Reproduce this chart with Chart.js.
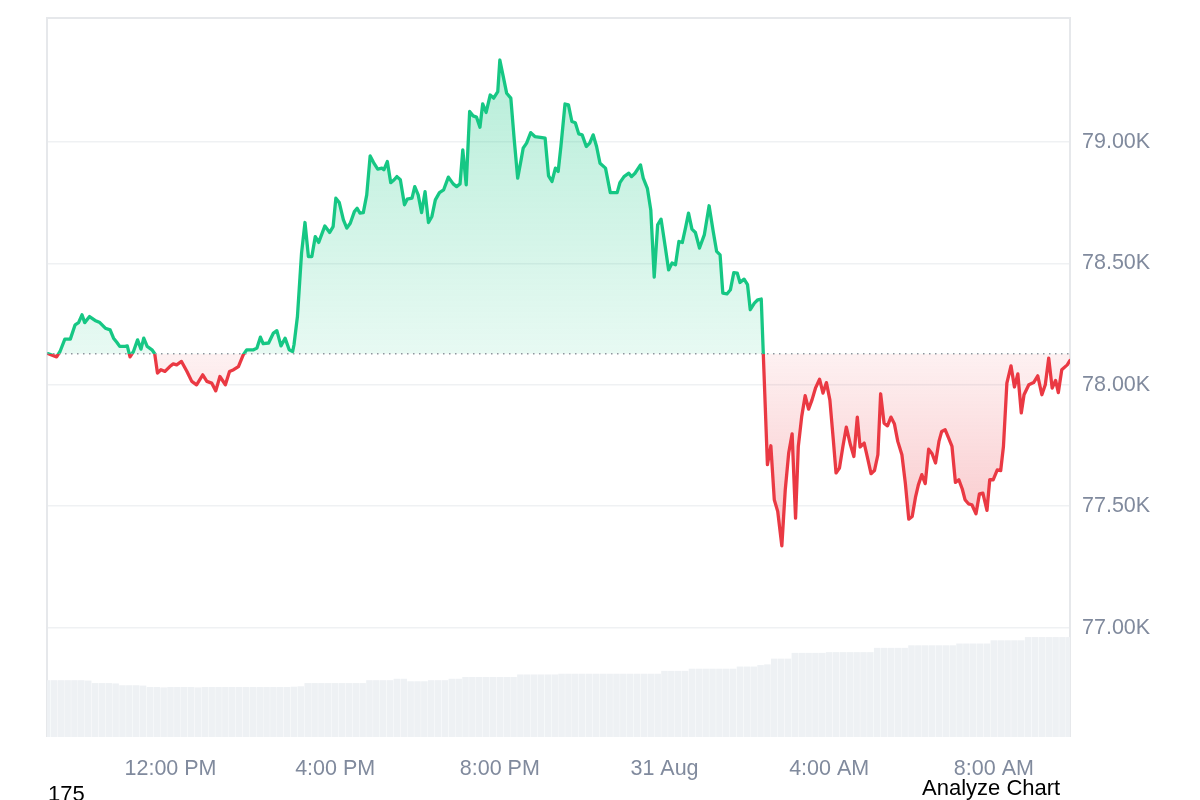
<!DOCTYPE html>
<html><head><meta charset="utf-8">
<script src="https://cdn.jsdelivr.net/npm/chart.js@4.4.1/dist/chart.umd.min.js"></script>
<style>
html,body{margin:0;padding:0;background:#fff;overflow:hidden;}
#wrap{position:relative;width:1200px;height:800px;}
canvas{display:block;}
.t{position:absolute;font-family:"Liberation Sans",Arial,sans-serif;color:#000;white-space:nowrap;}
</style></head><body>
<div id="wrap"><canvas id="c" width="1200" height="800" style="width:1200px;height:800px"></canvas>
<div class="t" style="left:48px;top:783px;font-size:22px;line-height:22px;">175</div>
<div class="t" style="left:922px;top:777px;font-size:22px;line-height:22px;">Analyze Chart</div>
</div>
<script>
// minutes since 30 Aug 09:00
const minutes = [2,14,19,26,34,41,46,51,55,62,70,77,85,92,97,102,106,114,117,121,126,132,137,141,146,153,157,161,166,172,179,184,189,196,204,211,218,227,233,240,246,252,260,266,272,279,286,291,301,306,311,315,323,330,335,341,347,353,358,
360,365,371,376,381,386,391,396,405,412,417,421,426,432,437,442,448,452,456,461,466,471,476,482,488,491,496,501,506,510,515,521,525,532,536,541,546,551,556,561,566,572,578,585,592,597,602,606,611,616,621,626,631,635,640,646,651,657,660,665,670,676,681,686,691,694,699,705,711,719,726,731,736,741,745,749,755,760,765,770,775,780,786,791,796,801,806,814,821,831,835,841,848,852,857,865,869,875,880,885,890,895,901,906,911,916,921,926,931,935,940,945,951,958,965,971,976,981,985,991,996,1001,1006,1010,1016,1021,1025,1031,1036,1041,
1050,1055,1060,1065,1071,1076,1081,1086,1091,1095,1100,1105,1110,1115,1120,1126,1131,1136,1141,1146,1150,1155,1160,1165,1171,1176,1181,1185,1191,1196,1201,1206,1211,1215,1220,1225,1230,1235,1240,1246,1251,1256,1261,1266,1270,1275,1280,1285,1290,1295,1300,1304,1309,1314,1319,1324,1329,1334,1338,1343,1348,1354,1359,1364,1370,1374,1379,1385,1390,1394,1399,1405,1410,1415,1420,1424,1431,1438,1444,1450,1455,1460,1465,1470,1474,1479,1487,1491];
const prices = [78128,78115,78137,78188,78188,78247,78256,78288,78256,78281,78265,78256,78233,78226,78192,78174,78158,78158,78160,78115,78137,78185,78147,78192,78158,78144,78128,78048,78062,78055,78075,78086,78082,78096,78055,78014,78000,78041,78014,78007,77975,78034,78000,78055,78062,78075,78123,78144,78144,78151,78196,78169,78172,78213,78223,78160,78192,78144,78137,
78165,78281,78542,78668,78528,78528,78610,78586,78654,78627,78651,78768,78750,78679,78645,78665,78713,78727,78707,78709,78782,78942,78915,78888,78892,78885,78919,78832,78844,78857,78844,78741,78764,78768,78816,78782,78709,78795,78668,78693,78761,78791,78802,78855,78827,78816,78827,78967,78823,79125,79107,79102,79060,79156,79121,79193,79180,79207,79337,79269,79200,79180,79008,78851,78926,78974,78995,79038,79022,79019,79015,78860,78837,78892,78878,78981,79156,79152,79084,79079,79033,79029,78981,78995,79029,78981,78912,78892,78791,78791,78832,78857,78871,78857,78871,78905,78851,78809,78720,78443,78658,78682,78569,78473,78501,78494,78590,78586,78651,78707,78641,78627,78563,78617,78737,78631,78549,78535,78377,78374,78391,78462,78460,78421,78435,78412,78309,78336,78350,78353,
77671,77749,77527,77479,77337,77568,77719,77798,77451,77746,77870,77955,77900,77938,77986,78023,77966,78009,77938,77774,77637,77657,77746,77826,77753,77705,77867,77744,77760,77698,77634,77647,77712,77963,77842,77831,77867,77840,77767,77712,77595,77447,77458,77540,77588,77630,77593,77735,77716,77678,77767,77808,77815,77781,77746,77598,77609,77571,77527,77510,77506,77469,77551,77554,77483,77609,77609,77650,77647,77746,78007,78078,77991,78045,77884,77959,78000,78009,78037,77959,78000,78110,77986,78018,77968,78062,78082,78100];
const basePrice = 78128;

// volume bars, one every 10 minutes from 09:00
const volStartMin = 0, volStepMin = 10;
const volumes = [7.9,7.9,7.9,7.9,7.9,7.9,7.85,7.5,7.5,7.5,7.45,7.2,7.2,7.2,7.15,
6.95,6.95,6.9,6.95,6.95,6.95,6.95,6.9,6.95,6.95,6.95,6.95,6.95,6.95,6.95,6.95,6.95,6.95,6.95,6.95,6.95,7.0,7.05,
7.5,7.5,7.5,7.5,7.5,7.5,7.5,7.5,7.5,7.9,7.9,7.9,7.9,8.1,8.1,7.75,7.75,7.75,7.9,7.9,7.9,8.1,8.1,
8.35,8.35,8.35,8.35,8.35,8.35,8.35,8.35,8.7,8.7,8.7,8.7,8.7,8.7,
8.8,8.8,8.8,8.8,8.8,8.8,8.8,8.8,8.8,8.8,8.8,8.8,8.8,8.8,8.8,
9.2,9.2,9.2,9.2,9.5,9.5,9.5,9.5,9.5,9.5,9.5,9.8,9.8,9.8,10.0,10.1,10.9,10.9,10.9,
11.7,11.7,11.7,11.7,11.7,11.8,11.8,11.8,11.8,11.8,11.8,11.8,12.4,12.4,12.4,12.4,12.4,
12.75,12.75,12.75,12.75,12.75,12.75,12.75,13.0,13.0,13.0,13.0,13.0,13.45,13.45,13.45,13.45,13.45,
13.9,13.9,13.9,13.9,13.9,13.9,13.9];

const xTickMinutes = [180,420,660,900,1140,1380];
const xTickLabels = ['12:00 PM','4:00 PM','8:00 PM','31 Aug','4:00 AM','8:00 AM'];
const yTicks = [77000,77500,78000,78500,79000];

const GREEN = '#16c784', RED = '#ea3943';

function baseFrac(chart){
  const a = chart.chartArea, y = chart.scales.y;
  let f = (y.getPixelForValue(basePrice) - a.top) / (a.bottom - a.top);
  return Math.min(1, Math.max(0, f));
}
function lineGrad(chart){
  const a = chart.chartArea;
  if (!a || !chart.scales.y) return GREEN;
  const f = baseFrac(chart);
  const g = chart.ctx.createLinearGradient(0, a.top, 0, a.bottom);
  g.addColorStop(0, GREEN); g.addColorStop(f, GREEN);
  g.addColorStop(f, RED); g.addColorStop(1, RED);
  return g;
}
function fillGrad(chart){
  const a = chart.chartArea;
  if (!a || !chart.scales.y) return 'rgba(22,199,132,0.15)';
  const f = baseFrac(chart);
  const g = chart.ctx.createLinearGradient(0, a.top, 0, a.bottom);
  g.addColorStop(0, 'rgba(22,199,132,0.34)');
  g.addColorStop(f, 'rgba(22,199,132,0.10)');
  g.addColorStop(f, 'rgba(234,57,67,0.07)');
  g.addColorStop(1, 'rgba(234,57,67,0.5)');
  return g;
}

const framePlugin = {
  id: 'frame',
  beforeDatasetsDraw(chart){
    const {ctx, chartArea:a} = chart;
    ctx.save();
    ctx.lineWidth = 2;
    ctx.strokeStyle = '#e6e8eb';
    ctx.beginPath();
    ctx.moveTo(a.left, a.bottom); ctx.lineTo(a.left, a.top); ctx.lineTo(a.right, a.top); ctx.lineTo(a.right, a.bottom);
    ctx.stroke();
    ctx.restore();
  },
  afterDatasetsDraw(chart){
    const {ctx, chartArea:a} = chart;
    const yb = chart.scales.y.getPixelForValue(basePrice);
    ctx.save();
    ctx.strokeStyle = '#8f959e';
    ctx.lineWidth = 1.5;
    ctx.setLineDash([1.5, 4.5]);
    ctx.beginPath();
    ctx.moveTo(a.left, yb); ctx.lineTo(a.right, yb);
    ctx.stroke();
    ctx.restore();
  }
};

new Chart(document.getElementById('c').getContext('2d'), {
  type: 'line',
  data: {
    datasets: [
      {
        type: 'line',
        data: minutes.map((m, i) => ({x: m, y: prices[i]})),
        yAxisID: 'y', order: 1,
        borderWidth: 3.3, pointRadius: 0, tension: 0,
        borderJoinStyle: 'round', borderCapStyle: 'round',
        borderColor: c => lineGrad(c.chart),
        backgroundColor: c => fillGrad(c.chart),
        fill: {value: basePrice}
      },
      {
        type: 'bar',
        data: volumes.map((v, i) => ({x: volStartMin + i * volStepMin, y: v})),
        yAxisID: 'yVol', order: 2,
        backgroundColor: '#eef1f4', borderWidth: 0,
        barPercentage: 1, categoryPercentage: 0.95
      }
    ]
  },
  options: {
    responsive: false, animation: false, devicePixelRatio: 1,
    layout: {padding: {left: 47, top: 18, right: 0, bottom: 0}},
    plugins: {legend: {display: false}, tooltip: {enabled: false}},
    scales: {
      x: {
        type: 'linear', min: 0, max: 1491, offset: false,
        grid: {display: false, drawTicks: false}, border: {display: false},
        afterBuildTicks: s => { s.ticks = xTickMinutes.map(v => ({value: v})); },
        afterFit: s => { s.height = 63; s.paddingLeft = 0; s.paddingRight = 0; },
        ticks: {autoSkip: false, maxRotation: 0, padding: 19, color: '#808a9d',
          font: {family: 'Liberation Sans', size: 21.5},
          callback: v => { const k = xTickMinutes.indexOf(v); return k >= 0 ? xTickLabels[k] : ''; }}
      },
      y: {
        position: 'right', min: 76550, max: 79510,
        grid: {color: '#eff1f3', lineWidth: 1.5, drawTicks: false}, border: {display: false},
        afterBuildTicks: s => { s.ticks = yTicks.map(v => ({value: v})); },
        afterFit: s => { s.width = 130; s.paddingTop = 0; s.paddingBottom = 0; },
        ticks: {padding: 12, color: '#808a9d', font: {family: 'Liberation Sans', size: 21.5},
          callback: v => (v / 1000).toFixed(2) + 'K'}
      },
      yVol: {display: false, min: 0, max: 100}
    }
  },
  plugins: [framePlugin]
});
</script>
</body></html>
